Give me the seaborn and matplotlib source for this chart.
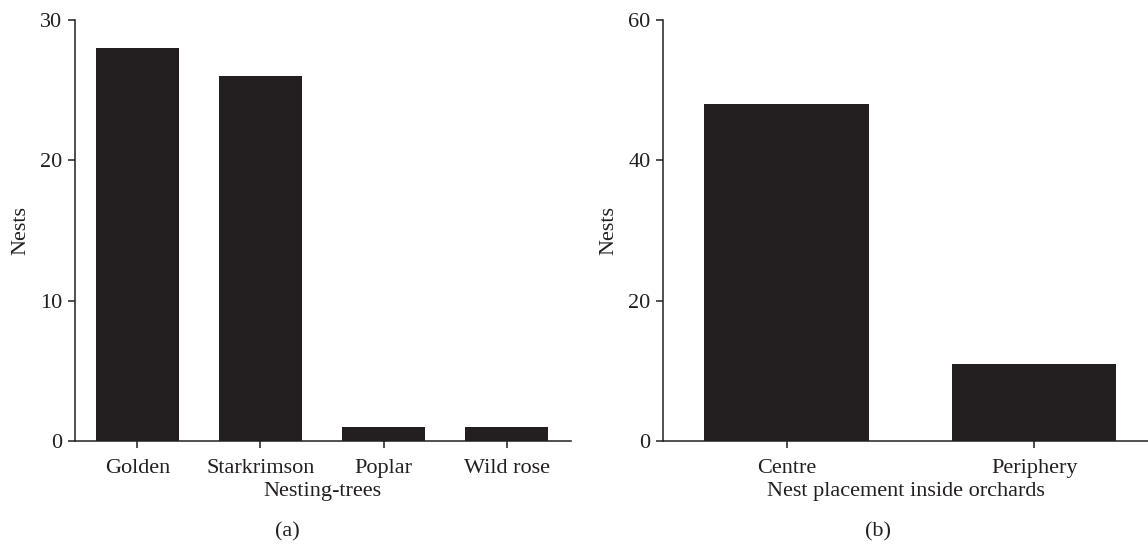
import pandas as pd
import seaborn as sns
import matplotlib
matplotlib.use("Agg")
import matplotlib.pyplot as plt

# data
trees = ["Golden", "Starkrimson", "Poplar", "Wild rose"]
tree_nests = [28, 26, 1, 1]
placements = ["Centre", "Periphery"]
placement_nests = [48, 11]

BAR = "#231f20"
FS = 16


def set_config():
    sns.set_style("ticks")
    plt.rcParams["font.family"] = ["Liberation Serif", "DejaVu Serif"]
    plt.rcParams["font.size"] = FS
    plt.rcParams["axes.edgecolor"] = BAR
    plt.rcParams["axes.linewidth"] = 1.1
    plt.rcParams["xtick.color"] = BAR
    plt.rcParams["ytick.color"] = BAR
    plt.rcParams["text.color"] = BAR
    plt.rcParams["axes.labelcolor"] = BAR


def draw_panel(ax, cats, vals, xlabel, ymax, step, width, xlim):
    df = pd.DataFrame({"cat": cats, "nests": vals})
    sns.barplot(x="cat", y="nests", data=df, ax=ax, color=BAR,
                saturation=1, width=width, edgecolor="none")
    ax.set_ylim(0, ymax)
    ax.set_yticks(range(0, ymax + 1, step))
    ax.set_xlim(*xlim)
    ax.set_xlabel(xlabel, fontsize=FS, labelpad=3)
    ax.set_ylabel("Nests", fontsize=FS, labelpad=7)
    ax.tick_params(axis="both", labelsize=FS, length=5, width=1.1,
                   direction="out")
    ax.tick_params(axis="x", pad=8)
    ax.tick_params(axis="y", pad=4)
    sns.despine(ax=ax)


def main():
    set_config()
    fig = plt.figure(figsize=(11.48, 5.5), dpi=100)
    ax1 = fig.add_axes([0.065, 0.198, 0.432, 0.766])
    ax2 = fig.add_axes([0.5775, 0.198, 0.4225, 0.766])

    draw_panel(ax1, trees, tree_nests, "Nesting-trees", 30, 10, 0.675, (-0.51, 3.52))
    draw_panel(ax2, placements, placement_nests, "Nest placement inside orchards",
               60, 20, 0.665, (-0.5, 1.46))

    fig.text(0.25, 0.033, "(a)", ha="center", va="center", fontsize=FS)
    fig.text(0.765, 0.033, "(b)", ha="center", va="center", fontsize=FS)

    fig.savefig("out.png", dpi=100)


if __name__ == "__main__":
    main()
